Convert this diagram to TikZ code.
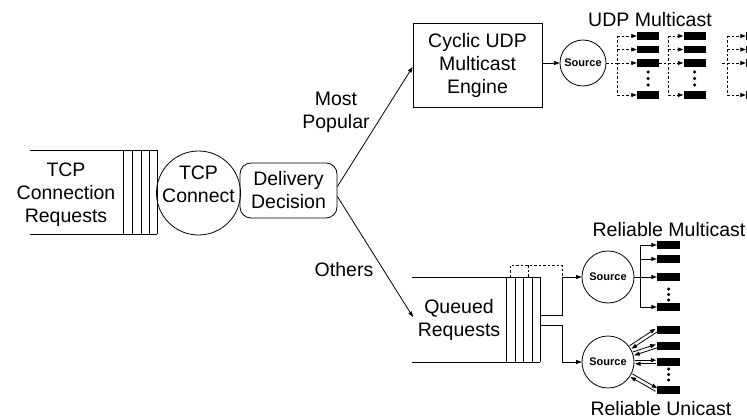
\documentclass[tikz,border=0pt]{standalone}
\usepackage{fontspec}
\setmainfont{Liberation Sans}
\usetikzlibrary{arrows.meta,calc}
\begin{document}
\begin{tikzpicture}[x=1pt,y=-1pt,
  ln/.style={line width=0.8pt},
  arr/.style={ln,-{Triangle[length=5.5pt,width=4pt]}},
  dsh/.style={line width=0.7pt,dash pattern=on 2.5pt off 2pt},
  darr/.style={dsh,-{Triangle[length=5.5pt,width=4pt]}},
  blk/.style={fill=black,minimum width=22pt,minimum height=7.5pt,inner sep=0pt},
  dotc/.style={circle,fill=black,minimum size=3.5pt,inner sep=0pt},
  src/.style={circle,draw,ln,inner sep=0pt,font=\fontsize{11}{13}\selectfont\bfseries},
  lbl/.style={font=\fontsize{19.5}{23}\selectfont,align=center,inner sep=0pt},
]
\clip (0,0) rectangle (747,420);

% left queue
\draw[ln] (30,150) -- (157,150) (30,234) -- (157,234);
\foreach \x in {123,132,141,149,157} \draw[ln] (\x,150) -- (\x,234);
\node[lbl] (req) at (66,195) {TCP\\Connection\\Requests};
\node[circle,draw,ln,minimum size=84pt,inner sep=0pt] (tcp) at (198.5,193) {};
\node[lbl] (tcpt) at (198.5,184) {TCP\\Connect};
\node[draw,ln,rounded corners=11pt,minimum width=97pt,minimum height=55pt,lbl] (dd) at (288.5,190.5) {Delivery\\Decision};

% cyclic engine
\node[draw,ln,minimum width=129pt,minimum height=84pt,lbl] (cyc) at (477.5,65) {Cyclic UDP\\Multicast\\Engine};
\coordinate (qin) at (413,317);
\draw[arr] ([yshift=4pt]dd.east) -- ([yshift=-2pt]cyc.west);
\draw[arr] ([yshift=-6pt]dd.east) -- (qin);
\node[lbl] (mp) at (336,112) {Most\\Popular};
\node[lbl] (oth) at (344,270) {Others};

% UDP multicast
\node[src,minimum size=46pt] (s1) at (583,63) {Source};
\draw[arr] (cyc.east |- s1) -- (s1.west);
\node[lbl] (udpl) at (650,20) {UDP Multicast};
\foreach \c/\x in {1/648,2/694.5,3/757}
  \foreach \r/\y in {a/36,b/49.5,c/63,d/95}
    \node[blk] (u\c\r) at (\x,\y) {};
\foreach \x in {648,694.5}
  \foreach \y in {72,78.5,85}
    \node[dotc] at (\x,\y) {};
\coordinate (v1) at (617,63);
\coordinate (v2) at (668,63);
\coordinate (v3) at (727,63);
\draw[dsh] (s1.east) -- (v1);
\draw[dsh] (u1c.east) -- (v2);
\draw[dsh] ([xshift=-5pt]v3) -- (v3);
\foreach \g in {1,2,3} {
  \draw[dsh] (v\g |- u\g a) -- (v\g |- u\g d);
  \foreach \r in {a,b,c,d}
    \draw[darr] (v\g |- u\g\r) -- (u\g\r.west);
}

% queued requests
\draw[ln] (412,277) -- (540,277) (412,362) -- (540,362);
\foreach \x in {506,515,523,532,540} \draw[ln] (\x,277) -- (\x,362);
\node[lbl] (qr) at (459,320) {Queued\\Requests};
\draw[dsh] (510,277) -- (510,265) -- (562,265) -- (562,277) (528,265) -- (528,277);
\node[src,minimum size=52pt] (s2) at (608,277) {Source};
\node[src,minimum size=52pt] (s3) at (608,362) {Source};
\coordinate (j2) at (562,277);
\coordinate (j3) at (562,362);
\draw[ln] (540,315) -- (562,315) -- (j2);
\draw[arr] (j2) -- (s2.west);
\draw[ln] (540,325) -- (562,325) -- (j3);
\draw[arr] (j3) -- (s3.west);

% reliable multicast
\foreach \r/\y in {a/245,b/259,c/277,d/307}
  \node[blk,minimum width=23pt] (m\r) at (668.5,\y) {};
\foreach \y in {289,294.5,300} \node[dotc] at (668.5,\y) {};
\coordinate (vm) at (640,277);
\draw[ln] (s2.east) -- (vm);
\draw[ln] (vm |- ma) -- (vm |- md);
\foreach \r in {a,b,c,d} \draw[arr] (vm |- m\r) -- (m\r.west);
\node[lbl] (rml) at (669,230) {Reliable Multicast};

% reliable unicast
\foreach \r/\y in {a/330,b/346,c/362,d/390}
  \node[blk,minimum width=23pt] (n\r) at (668.5,\y) {};
\foreach \y in {369,374.5,380} \node[dotc] at (668.5,\y) {};
\foreach \r in {a,b,c,d} {
  \coordinate (ps) at ($(s3)!27pt!(n\r.west)$);
  \coordinate (pe) at ($(n\r.west)!0.5pt!(s3)$);
  \draw[arr] ($(ps)!1.8pt!90:(pe)$) -- ($(pe)!1.8pt!-90:(ps)$);
  \draw[arr] ($(pe)!1.8pt!90:(ps)$) -- ($(ps)!1.8pt!-90:(pe)$);
}
\node[lbl] (rul) at (661,409) {Reliable Unicast};
\end{tikzpicture}
\end{document}
